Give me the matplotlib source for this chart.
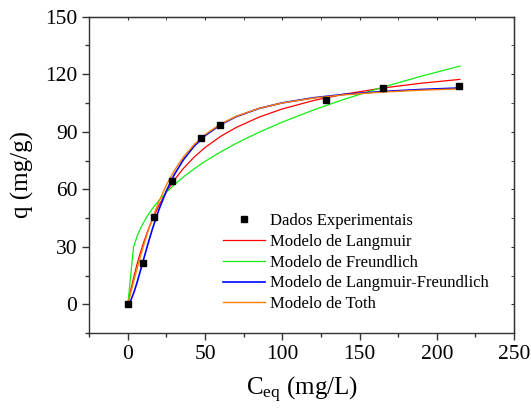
import numpy as np
import matplotlib
matplotlib.use('Agg')
import matplotlib.pyplot as plt
from matplotlib.ticker import MultipleLocator

plt.rcParams['font.family'] = ['Liberation Serif', 'DejaVu Serif']
plt.rcParams['mathtext.fontset'] = 'custom'
plt.rcParams['mathtext.rm'] = 'Liberation Serif'
plt.rcParams['mathtext.it'] = 'Liberation Serif:italic'

# dados experimentais
c_exp = [0, 9.5, 17.2, 28.4, 47.4, 59.9, 128.3, 165.4, 214.7]
q_exp = [0, 21.4, 45.7, 64.2, 86.7, 93.7, 106.3, 112.9, 113.9]

# curvas dos modelos
c_mod = [0, 2, 4, 6, 8, 10, 13, 16, 20, 25, 30, 36, 43, 50, 60, 70, 85, 100, 120, 140, 165, 190, 215]
q_langmuir = [0, 7.81, 14.77, 21.01, 26.63, 31.73, 38.53, 44.50, 51.39, 58.66, 64.76, 70.91, 76.86,
              81.79, 87.55, 92.18, 97.65, 101.89, 106.24, 109.58, 112.80, 115.30, 117.30]
q_lf = [0, 2.23, 6.39, 11.53, 17.15, 22.94, 31.49, 39.53, 49.14, 59.29, 67.56, 75.45, 82.55,
        87.97, 93.70, 97.82, 102.15, 105.07, 107.70, 109.48, 111.00, 112.05, 112.82]
q_toth = [0, 6.39, 12.67, 18.74, 24.58, 30.14, 37.92, 44.99, 53.38, 62.30, 69.66, 76.85, 83.42,
          88.55, 94.00, 98.00, 102.19, 105.00, 107.54, 109.25, 110.68, 111.67, 112.37]

c_freund = [0, 3.7, 6, 8, 10, 13, 16, 20, 25, 30, 36, 43, 50, 60, 70, 85, 100, 120, 140, 165, 190, 215]
q_freund = [0, 30.0, 35.5, 39.26, 42.45, 46.53, 50.04, 54.10, 58.50, 62.35, 66.46, 70.72, 74.56,
            79.47, 83.88, 89.77, 95.03, 101.29, 106.90, 113.23, 118.96, 124.22]

fig = plt.figure(figsize=(5.31, 4.16), dpi=100)
ax = fig.add_axes([0.168, 0.199, 0.80, 0.761])

ax.plot(c_exp, q_exp, 's', color='black', markersize=4.8, label='Dados Experimentais', zorder=5)
ax.plot(c_mod, q_langmuir, color='#ff0000', lw=0.9, label='Modelo de Langmuir')
ax.plot(c_freund, q_freund, color='#11ee11', lw=0.9, label='Modelo de Freundlich')
ax.plot(c_mod, q_lf, color='#0000ff', lw=1.2, label='Modelo de Langmuir-Freundlich')
ax.plot(c_mod, q_toth, color='#ff8000', lw=1.0, label='Modelo de Toth')

ax.set_xlim(-25, 250)
ax.set_ylim(-15, 150)
ax.xaxis.set_major_locator(MultipleLocator(50))
ax.xaxis.set_minor_locator(MultipleLocator(25))
ax.yaxis.set_major_locator(MultipleLocator(30))
ax.yaxis.set_minor_locator(MultipleLocator(15))

for s in ax.spines.values():
    s.set_color('#333333')
    s.set_linewidth(1.0)
ax.tick_params(which='both', direction='out', colors='#333333', labelcolor='black',
               labelsize=15.5, top=False, right=False)
ax.tick_params(which='major', length=5, width=1.0)
ax.tick_params(which='minor', length=3, width=1.0)

# ticks no topo e na direita
ax2 = ax.secondary_xaxis('top')
ax2.xaxis.set_major_locator(MultipleLocator(50))
ax2.xaxis.set_minor_locator(MultipleLocator(25))
ax2.tick_params(which='both', direction='in', length=2, colors='#333333', labeltop=False)
ax3 = ax.secondary_yaxis('right')
ax3.yaxis.set_major_locator(MultipleLocator(30))
ax3.yaxis.set_minor_locator(MultipleLocator(15))
ax3.tick_params(which='both', direction='in', length=2, colors='#333333', labelright=False)

ax.set_xlabel(r'$\mathrm{C_{eq}}$ (mg/L)', fontsize=18, labelpad=8)
ax.set_ylabel('q (mg/g)', fontsize=18, labelpad=8)

ax.legend(loc='upper left', bbox_to_anchor=(0.315, 0.38), frameon=False, fontsize=12,
          handlelength=2.5, handletextpad=0.3, labelspacing=0.29, borderpad=0,
          borderaxespad=0)

fig.savefig('out.png', dpi=100)
